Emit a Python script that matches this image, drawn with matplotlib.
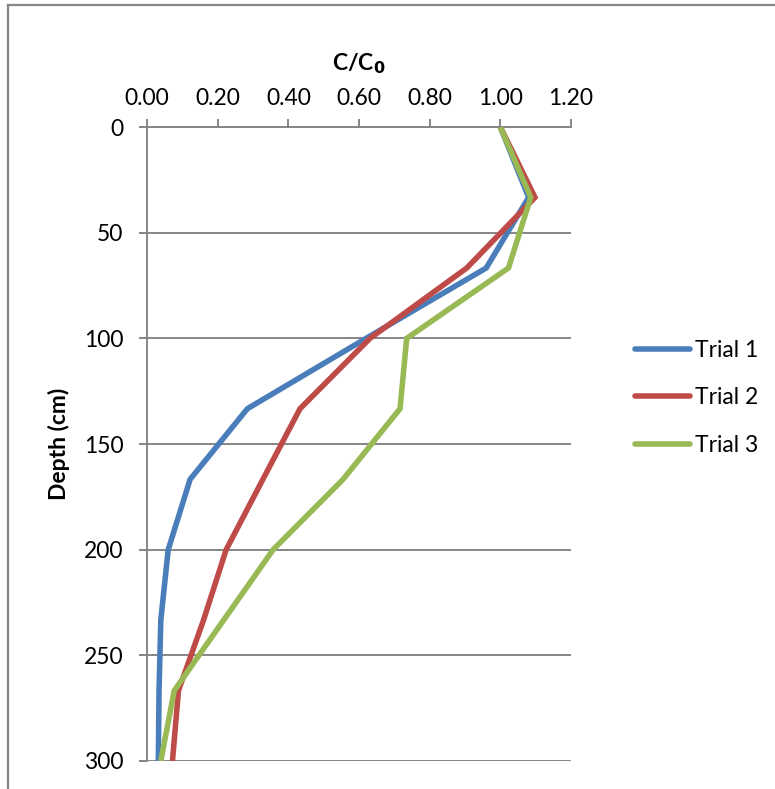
import matplotlib
matplotlib.use("Agg")
import matplotlib.pyplot as plt
from matplotlib.lines import Line2D

# Depth profiles of relative concentration C/C0
depth_cm = [0, 33.3, 66.7, 100, 133.3, 166.7, 200, 233.3, 266.7, 300]
trial_1 = [1.00, 1.08, 0.96, 0.62, 0.284, 0.122, 0.060, 0.039, 0.034, 0.032]
trial_2 = [1.00, 1.098, 0.905, 0.631, 0.433, 0.328, 0.224, 0.16, 0.089, 0.072]
trial_3 = [1.00, 1.086, 1.023, 0.735, 0.716, 0.555, 0.357, 0.217, 0.077, 0.039]

series_names = ["Trial 1", "Trial 2", "Trial 3"]
series_colors = ["#4A7EBB", "#BE4B48", "#98B954"]

x_ticks = [0.0, 0.2, 0.4, 0.6, 0.8, 1.0, 1.2]
y_ticks = [0, 50, 100, 150, 200, 250, 300]

plt.rcParams["font.family"] = ["Lato", "DejaVu Sans"]
grey = "#868686"
fs = 16.5

fig = plt.figure(figsize=(7.75, 7.89), dpi=100)
ax = fig.add_axes([0.1897, 0.0355, 0.5471, 0.8035])

for vals, name, col in zip([trial_1, trial_2, trial_3], series_names, series_colors):
    ax.plot(vals, depth_cm, color=col, lw=4.0, label=name,
            solid_joinstyle="miter", solid_capstyle="butt", zorder=3)

ax.set_xlim(0, 1.2)
ax.set_ylim(300, 0)
ax.set_xticks(x_ticks)
ax.set_xticklabels([f"{v:.2f}" for v in x_ticks])
ax.set_yticks(y_ticks)
ax.xaxis.tick_top()
ax.xaxis.set_label_position("top")

ax.tick_params(axis="both", direction="out", length=6, width=1.4, color=grey,
               labelsize=fs, labelcolor="black")
ax.tick_params(axis="x", pad=7)
ax.tick_params(axis="y", pad=11)

ax.yaxis.grid(True, color=grey, lw=1.4, zorder=1)
ax.set_axisbelow(True)
for side in ["right", "bottom"]:
    ax.spines[side].set_visible(False)
for side in ["left", "top"]:
    ax.spines[side].set_color(grey)
    ax.spines[side].set_linewidth(1.4)

ax.set_xlabel(r"C/C$_\mathbf{0}$", fontsize=fs, fontweight="bold", labelpad=13)
ax.set_ylabel("Depth (cm)", fontsize=fs, fontweight="bold", labelpad=10)

leg = ax.legend(loc="center left", bbox_to_anchor=(1.151, 0.573), frameon=False,
                fontsize=fs, handlelength=2.4, handletextpad=0.2,
                labelspacing=1.15, borderaxespad=0, borderpad=0)
for h in leg.get_lines():
    h.set_solid_capstyle("round")

# chart area border (left and top edges)
fig.add_artist(Line2D([8 / 775, 8 / 775], [0, 1 - 5 / 789], transform=fig.transFigure,
                      color=grey, lw=1.6))
fig.add_artist(Line2D([8 / 775, 1], [1 - 5 / 789, 1 - 5 / 789], transform=fig.transFigure,
                      color=grey, lw=1.6))

fig.savefig("out.png", dpi=100)
